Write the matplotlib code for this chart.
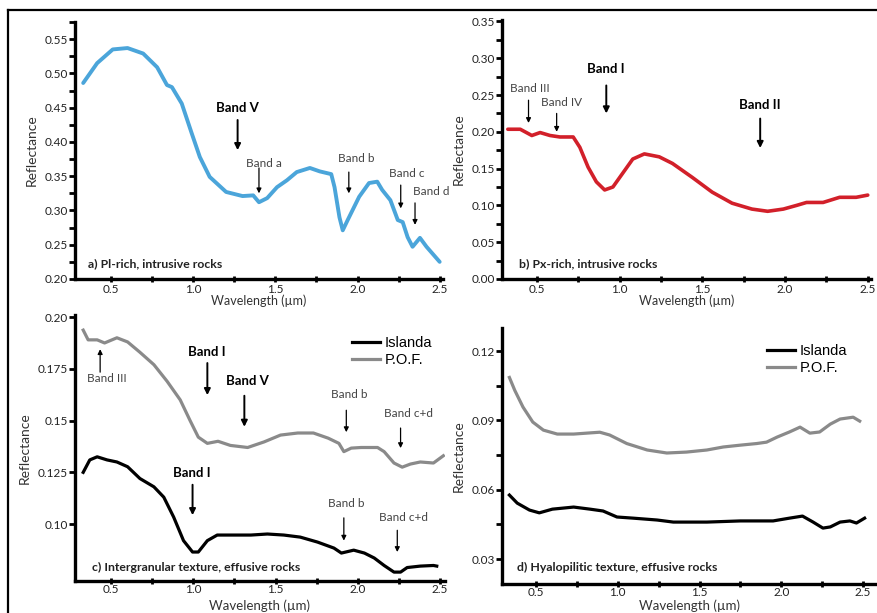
import numpy as np
import matplotlib
matplotlib.use("Agg")
import matplotlib.pyplot as plt
from matplotlib.ticker import FixedLocator, FixedFormatter
from matplotlib.lines import Line2D

plt.rcParams['font.family'] = ['Lato', 'DejaVu Sans']

## spectra (wavelength in um, reflectance)
a_wl = [0.33, 0.415, 0.51, 0.60, 0.695, 0.78, 0.84, 0.87, 0.93, 0.99, 1.04, 1.10, 1.20, 1.30,
        1.365, 1.40, 1.45, 1.51, 1.57, 1.63, 1.71, 1.77, 1.84, 1.86, 1.89, 1.91, 1.94, 2.01,
        2.07, 2.12, 2.15, 2.20, 2.245, 2.275, 2.305, 2.335, 2.38, 2.42, 2.50]
a_refl = [0.486, 0.515, 0.535, 0.537, 0.529, 0.509, 0.483, 0.480, 0.456, 0.413, 0.378, 0.349,
          0.327, 0.321, 0.322, 0.312, 0.318, 0.334, 0.344, 0.356, 0.362, 0.357, 0.353, 0.334,
          0.290, 0.271, 0.286, 0.320, 0.340, 0.342, 0.330, 0.315, 0.286, 0.283, 0.261, 0.247,
          0.260, 0.247, 0.225]

b_wl = [0.325, 0.40, 0.47, 0.52, 0.58, 0.64, 0.72, 0.76, 0.81, 0.86, 0.91, 0.96, 1.02, 1.08,
        1.15, 1.24, 1.32, 1.44, 1.56, 1.68, 1.80, 1.895, 1.99, 2.07, 2.13, 2.23, 2.33, 2.43, 2.50]
b_refl = [0.2035, 0.2035, 0.195, 0.199, 0.195, 0.193, 0.193, 0.179, 0.152, 0.132, 0.121, 0.125,
          0.144, 0.163, 0.170, 0.166, 0.157, 0.138, 0.118, 0.103, 0.095, 0.092, 0.095, 0.100,
          0.104, 0.104, 0.111, 0.111, 0.114]

c_pof_wl = [0.33, 0.36, 0.415, 0.46, 0.535, 0.60, 0.675, 0.76, 0.84, 0.92, 0.98, 1.03, 1.085,
            1.15, 1.225, 1.33, 1.43, 1.53, 1.635, 1.73, 1.82, 1.885, 1.915, 1.96, 2.02, 2.12,
            2.16, 2.22, 2.27, 2.32, 2.38, 2.46, 2.52]
c_pof = [0.1937, 0.189, 0.189, 0.1875, 0.190, 0.188, 0.183, 0.177, 0.169, 0.160, 0.150, 0.142,
         0.139, 0.140, 0.138, 0.137, 0.1397, 0.143, 0.144, 0.144, 0.1415, 0.139, 0.135, 0.1367,
         0.137, 0.137, 0.135, 0.1295, 0.1275, 0.129, 0.130, 0.1295, 0.133]

c_isl_wl = [0.33, 0.37, 0.415, 0.475, 0.535, 0.60, 0.675, 0.76, 0.82, 0.88, 0.94, 0.995, 1.03,
            1.085, 1.145, 1.245, 1.35, 1.45, 1.55, 1.65, 1.755, 1.855, 1.90, 1.975, 2.04, 2.10,
            2.16, 2.22, 2.26, 2.30, 2.38, 2.46, 2.48]
c_isl = [0.125, 0.131, 0.1325, 0.131, 0.130, 0.1277, 0.122, 0.118, 0.113, 0.1034, 0.092, 0.0865,
         0.0865, 0.092, 0.0947, 0.0947, 0.0947, 0.0952, 0.0947, 0.0937, 0.0913, 0.0884, 0.086,
         0.0874, 0.086, 0.0836, 0.080, 0.0768, 0.0768, 0.079, 0.0797, 0.080, 0.0797]

d_pof_wl = [0.337, 0.37, 0.42, 0.48, 0.545, 0.63, 0.73, 0.81, 0.89, 0.95, 1.055, 1.18, 1.30,
            1.42, 1.545, 1.645, 1.75, 1.85, 1.91, 1.975, 2.05, 2.115, 2.175, 2.235, 2.30, 2.36,
            2.44, 2.48]
d_pof = [0.1086, 0.103, 0.0958, 0.0893, 0.0858, 0.0841, 0.0841, 0.0845, 0.0849, 0.0837, 0.080,
         0.0772, 0.0759, 0.0763, 0.0772, 0.0785, 0.0793, 0.080, 0.0806, 0.0828, 0.085, 0.0871,
         0.0845, 0.085, 0.0884, 0.0906, 0.0914, 0.0897]

d_isl_wl = [0.337, 0.385, 0.46, 0.52, 0.60, 0.73, 0.83, 0.91, 0.995, 1.095, 1.24, 1.34, 1.545,
            1.75, 1.95, 2.05, 2.13, 2.195, 2.255, 2.30, 2.36, 2.42, 2.46, 2.51]
d_isl = [0.0577, 0.0542, 0.0512, 0.050, 0.0516, 0.0525, 0.0516, 0.0508, 0.0482, 0.0477, 0.0469,
         0.046, 0.046, 0.0465, 0.0465, 0.0477, 0.0486, 0.046, 0.0434, 0.0439, 0.046, 0.0465,
         0.0456, 0.0477]

## band labels: text, text x/y, arrow x, arrow tail y, arrow head y, bold
a_bands = [("Band V", 1.27, 0.449, 1.27, 0.432, 0.388, True),
           ("Band a", 1.43, 0.369, 1.40, 0.362, 0.325, False),
           ("Band b", 1.99, 0.376, 1.947, 0.356, 0.325, False),
           ("Band c", 2.30, 0.354, 2.263, 0.337, 0.303, False),
           ("Band d", 2.45, 0.328, 2.35, 0.311, 0.279, False)]
b_bands = [("Band III", 0.46, 0.259, 0.45, 0.243, 0.212, False),
           ("Band IV", 0.65, 0.240, 0.62, 0.225, 0.200, False),
           ("Band I", 0.92, 0.285, 0.92, 0.263, 0.225, True),
           ("Band II", 1.85, 0.236, 1.85, 0.218, 0.178, True)]
c_bands = [("Band I", 1.08, 0.183, 1.085, 0.1778, 0.1623, True),
           ("Band V", 1.33, 0.169, 1.31, 0.162, 0.147, True),
           ("Band b", 1.945, 0.1628, 1.93, 0.155, 0.1444, False),
           ("Band c+d", 2.31, 0.1536, 2.26, 0.1464, 0.1367, False),
           ("Band I", 0.99, 0.1246, 0.995, 0.119, 0.1043, True),
           ("Band b", 1.93, 0.110, 1.915, 0.103, 0.092, False),
           ("Band c+d", 2.28, 0.1034, 2.24, 0.097, 0.0865, False)]
## the little "Band III" with an upward arrow on the P.O.F. curve
c_band3 = ("Band III", 0.475, 0.1705, 0.433, 0.1734, 0.1845)

fig = plt.figure(figsize=(8.78, 6.13), dpi=100, facecolor='w')

## frame lines around the figure (top and left)
fig.add_artist(Line2D([8/878, 1], [1-10/613, 1-10/613], color='k', lw=1.6, transform=fig.transFigure))
fig.add_artist(Line2D([8/878, 8/878], [0, 1-10/613], color='k', lw=1.6, transform=fig.transFigure))


def setup(ax, xlim, ylim, yticks, ylabels, yminor, xlab_size, xpad=1):
    ax.set_xlim(*xlim)
    ax.set_ylim(*ylim)
    for s in ['top', 'right']:
        ax.spines[s].set_visible(False)
    for s in ['left', 'bottom']:
        ax.spines[s].set_linewidth(2.4)
    ax.xaxis.set_major_locator(FixedLocator([0.5, 1.0, 1.5, 2.0, 2.5]))
    ax.xaxis.set_major_formatter(FixedFormatter(["0.5", "1.0", "1.5", "2.0", "2.5"]))
    ax.xaxis.set_minor_locator(FixedLocator([0.75, 1.25, 1.75, 2.25]))
    ax.yaxis.set_major_locator(FixedLocator(yticks))
    ax.yaxis.set_major_formatter(FixedFormatter(ylabels))
    if yminor:
        ax.yaxis.set_minor_locator(FixedLocator(yminor))
    ax.tick_params(axis='x', which='both', direction='inout', length=5, width=2, pad=xpad,
                   labelsize=8.5, labelcolor='#222222')
    ax.tick_params(axis='y', which='both', direction='out', length=4, width=2, pad=1,
                   labelsize=8.5, labelcolor='#222222')
    ax.set_xlabel("Wavelength (\u00b5m)", fontsize=xlab_size, color='#333333', labelpad=0)
    ax.set_ylabel("Reflectance", fontsize=10, color='#333333', labelpad=5)


def bands(ax, items):
    for txt, tx, ty, ax_x, y0, y1, bold in items:
        ax.text(tx, ty, txt, ha='center', va='center', fontsize=9.5 if bold else 8.5,
                fontweight='bold' if bold else 'normal', color='k' if bold else '#444444')
        ax.annotate('', xy=(ax_x, y1), xytext=(ax_x, y0),
                    arrowprops=dict(arrowstyle='-|>', color='k', lw=1.4 if bold else 0.9,
                                    mutation_scale=9 if bold else 7, shrinkA=0, shrinkB=0))


## a) Pl-rich
ax_a = fig.add_axes([0.0854, 0.5449, 0.4191, 0.4192])
ax_a.plot(a_wl, a_refl, color='#4ba5da', lw=2.8, solid_joinstyle='round', solid_capstyle='round')
setup(ax_a, (0.28, 2.52), (0.20, 0.575), [0.20, 0.25, 0.30, 0.35, 0.40, 0.45, 0.50, 0.55],
      ["0.20", "0.25", "0.30", "0.35", "0.40", "0.45", "0.50", "0.55"],
      list(np.arange(0.225, 0.58, 0.05)), 9)
bands(ax_a, a_bands)
ax_a.text(0.035, 0.06, "a) Pl-rich, intrusive rocks", transform=ax_a.transAxes,
          fontsize=8.8, fontweight='bold', color='#222222', va='center')

## b) Px-rich
ax_b = fig.add_axes([0.5718, 0.5449, 0.4203, 0.4225])
ax_b.plot(b_wl, b_refl, color='#d2202a', lw=2.6, solid_joinstyle='round', solid_capstyle='round')
setup(ax_b, (0.29, 2.52), (0.0, 0.352), [0.0, 0.05, 0.10, 0.15, 0.20, 0.25, 0.30, 0.35],
      ["0.00", "0.05", "0.10", "0.15", "0.20", "0.25", "0.30", "0.35"],
      list(np.arange(0.025, 0.35, 0.05)), 9)
bands(ax_b, b_bands)
ax_b.text(0.045, 0.06, "b) Px-rich, intrusive rocks", transform=ax_b.transAxes,
          fontsize=8.8, fontweight='bold', color='#222222', va='center')

## c) Intergranular texture
ax_c = fig.add_axes([0.0854, 0.0522, 0.4214, 0.4339])
ax_c.plot(c_isl_wl, c_isl, color='k', lw=2.3, label="Islanda", solid_joinstyle='round')
ax_c.plot(c_pof_wl, c_pof, color='#8a8a8a', lw=2.3, label="P.O.F.", solid_joinstyle='round')
setup(ax_c, (0.28, 2.53), (0.0725, 0.201), [0.10, 0.125, 0.15, 0.175, 0.20],
      ["0.10", "0.125", "0.15", "0.175", "0.20"], None, 9.5, xpad=0)
ax_c.xaxis.set_label_coords(0.5, -0.092)
ax_c.xaxis.label.set_va('center')
bands(ax_c, c_bands)
txt, tx, ty, ax_x, y0, y1 = c_band3
ax_c.text(tx, ty, txt, ha='center', va='center', fontsize=8.5, color='#444444')
ax_c.annotate('', xy=(ax_x, y1), xytext=(ax_x, y0),
              arrowprops=dict(arrowstyle='-|>', color='k', lw=0.9, mutation_scale=7,
                              shrinkA=0, shrinkB=0))
ax_c.text(0.045, 0.05, "c) Intergranular texture, effusive rocks", transform=ax_c.transAxes,
          fontsize=8.8, fontweight='bold', color='#222222', va='center')
ax_c.legend(loc='upper right', bbox_to_anchor=(1.0, 0.97), frameon=False, handlelength=1.9,
            handletextpad=0.3, labelspacing=0.2,
            prop={'family': 'Liberation Sans', 'size': 10.5})

## d) Hyalopilitic texture
ax_d = fig.add_axes([0.5718, 0.0473, 0.4271, 0.4176])
ax_d.plot(d_isl_wl, d_isl, color='k', lw=2.3, label="Islanda", solid_joinstyle='round')
ax_d.plot(d_pof_wl, d_pof, color='#8a8a8a', lw=2.3, label="P.O.F.", solid_joinstyle='round')
setup(ax_d, (0.292, 2.586), (0.0192, 0.130), [0.03, 0.06, 0.09, 0.12],
      ["0.03", "0.06", "0.09", "0.12"], [0.045, 0.075, 0.105], 9.5, xpad=0)
ax_d.xaxis.set_label_coords(0.5, -0.085)
ax_d.xaxis.label.set_va('center')
ax_d.text(0.04, 0.063, "d) Hyalopilitic texture, effusive rocks", transform=ax_d.transAxes,
          fontsize=8.8, fontweight='bold', color='#222222', va='center')
ax_d.legend(loc='upper right', bbox_to_anchor=(0.955, 0.99), frameon=False, handlelength=1.9,
            handletextpad=0.3, labelspacing=0.2,
            prop={'family': 'Liberation Sans', 'size': 10.5})

plt.savefig("out.png", dpi=100, facecolor='w')
